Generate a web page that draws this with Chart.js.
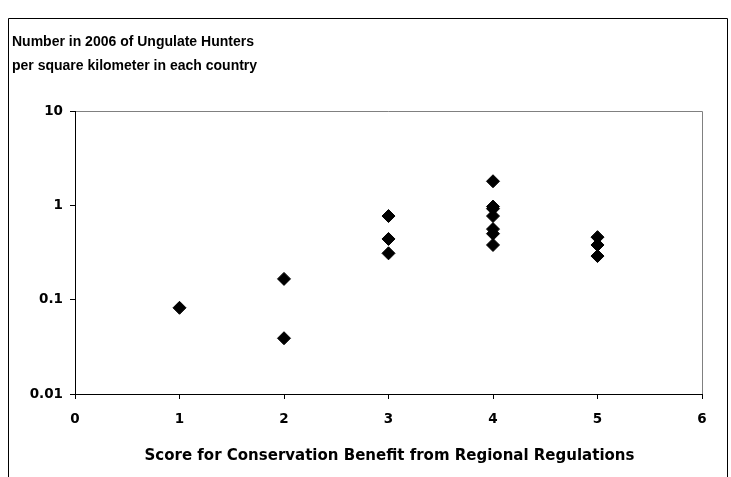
<!DOCTYPE html>
<html>
<head>
<meta charset="utf-8">
<script src="https://cdn.jsdelivr.net/npm/chart.js@4/dist/chart.umd.min.js"></script>
<style>
html,body{margin:0;padding:0;background:#fff;}
#wrap{width:731px;height:477px;position:relative;}
</style>
</head>
<body>
<div id="wrap"><canvas id="c" width="731" height="477"></canvas></div>
<script>
// Data
const scores = [1, 2, 2, 3, 3, 3, 4, 4, 4, 4, 4, 4, 4, 5, 5, 5];
const huntersPerKm2 = [0.082, 0.166, 0.039, 0.77, 0.44, 0.31, 1.8, 0.97, 0.92, 0.77, 0.56, 0.5, 0.38, 0.46, 0.38, 0.29];
const yTickValues = [0.01, 0.1, 1, 10];
const xTickValues = [0, 1, 2, 3, 4, 5, 6];
const titleLines = ["Number in 2006 of Ungulate Hunters", "per square kilometer in each country"];
const xTitle = "Score for Conservation Benefit from Regional Regulations";

const FONT = "'Liberation Sans', Arial, sans-serif";
const WIDE = "'DejaVu Sans', 'Liberation Sans', sans-serif";

const points = scores.map((s, i) => ({x: s, y: huntersPerKm2[i]}));

const decor = {
  id: 'decor',
  beforeDraw(chart) {
    const ctx = chart.ctx;
    ctx.save();
    ctx.fillStyle = '#fff';
    ctx.fillRect(0, 0, chart.width, chart.height);
    // outer frame
    ctx.strokeStyle = '#000';
    ctx.lineWidth = 1;
    ctx.beginPath();
    ctx.moveTo(8.5, 480);
    ctx.lineTo(8.5, 18.5);
    ctx.lineTo(727.5, 18.5);
    ctx.lineTo(727.5, 480);
    ctx.stroke();
    // gray plot frame (top and right)
    const a = chart.chartArea;
    ctx.strokeStyle = '#808080';
    ctx.beginPath();
    ctx.moveTo(a.left, Math.round(a.top) + 0.5);
    ctx.lineTo(Math.round(a.right) + 0.5, Math.round(a.top) + 0.5);
    ctx.lineTo(Math.round(a.right) + 0.5, a.bottom);
    ctx.stroke();
    ctx.restore();
  },
  afterDraw(chart) {
    const ctx = chart.ctx;
    const a = chart.chartArea;
    ctx.save();
    ctx.fillStyle = '#000';
    ctx.font = "bold 14px " + FONT;
    ctx.textBaseline = 'middle';
    ctx.textAlign = 'left';
    ctx.fillText(titleLines[0], 12, 42);
    ctx.fillText(titleLines[1], 12, 66);
    ctx.textAlign = 'center';
    ctx.font = "bold 15px " + WIDE;
    ctx.fillText(xTitle, (a.left + a.right) / 2 + 1, 456);
    ctx.restore();
  }
};

new Chart(document.getElementById('c'), {
  type: 'scatter',
  data: {
    datasets: [{
      data: points,
      pointStyle: 'rectRot',
      pointRadius: 6.5,
      pointHoverRadius: 6.5,
      backgroundColor: '#000',
      borderColor: '#000',
      borderWidth: 1
    }]
  },
  options: {
    responsive: false,
    animation: false,
    events: [],
    layout: {padding: {left: 0, top: 111, right: 29, bottom: 0}},
    plugins: {legend: {display: false}, tooltip: {enabled: false}, title: {display: false}},
    scales: {
      x: {
        type: 'linear',
        min: 0, max: 6,
        afterFit(scale) { scale.height = 83; },
        afterBuildTicks(scale) { scale.ticks = xTickValues.map(v => ({value: v})); },
        ticks: {color: '#000', font: {family: WIDE, size: 13.5, weight: 'bold'}, padding: 12, maxRotation: 0},
        grid: {display: true, drawOnChartArea: false, drawTicks: true, tickLength: 5, color: '#000'},
        border: {display: true, color: '#000', width: 1}
      },
      y: {
        type: 'logarithmic',
        min: 0.01, max: 10,
        afterFit(scale) { scale.width = 75; },
        afterBuildTicks(scale) { scale.ticks = yTickValues.map(v => ({value: v})); },
        ticks: {color: '#000', font: {family: WIDE, size: 13.5, weight: 'bold'}, padding: 7,
          callback: v => String(v)},
        grid: {display: true, drawOnChartArea: false, drawTicks: true, tickLength: 5, color: '#000'},
        border: {display: true, color: '#000', width: 1}
      }
    }
  },
  plugins: [decor]
});
</script>
</body>
</html>
